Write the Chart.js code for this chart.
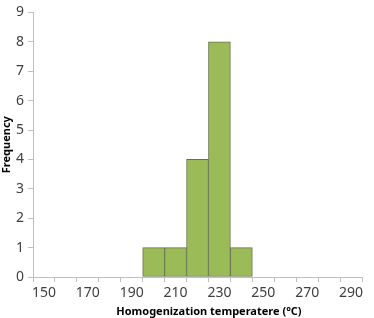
<!DOCTYPE html>
<html>
<head>
<meta charset="utf-8">
<script src="https://cdn.jsdelivr.net/npm/chart.js@4"></script>
<style>
  html, body { margin: 0; padding: 0; background: #fff; }
  #chart { display: block; }
</style>
</head>
<body>
<canvas id="chart" width="374" height="318"></canvas>
<script>
// histogram bins (lower bound, 10 degree wide)
const bins = ['150', '160', '170', '180', '190', '200', '210', '220', '230', '240', '250', '260', '270', '280', '290'];
const frequency = [0, 0, 0, 0, 0, 1, 1, 4, 8, 1, 0, 0, 0, 0, 0];
const yTicks = [0, 1, 2, 3, 4, 5, 6, 7, 8, 9];

const axisGray = '#bfbfbf';
const labelFont = { family: 'Noto Sans', size: 14 };

const ctx = document.getElementById('chart').getContext('2d');
const chart = new Chart(ctx, {
  type: 'bar',
  data: {
    labels: bins,
    datasets: [
      {
        label: 'Frequency',
        data: frequency,
        backgroundColor: '#9bbb59',
        borderColor: '#667548',
        borderWidth: 1,
        borderSkipped: false,
        barPercentage: 1,
        categoryPercentage: 1
      }
    ]
  },
  options: {
    responsive: false,
    animation: false,
    layout: { padding: { top: 6, right: 12, left: 0, bottom: 0 } },
    plugins: {
      legend: { display: false },
      tooltip: { enabled: false }
    },
    scales: {
      x: {
        offset: true,
        grid: {
          offset: true,
          drawOnChartArea: false,
          drawTicks: true,
          tickLength: 5,
          color: axisGray
        },
        border: { color: axisGray },
        ticks: {
          autoSkip: false,
          maxRotation: 0,
          color: '#404040',
          font: labelFont,
          padding: 3,
          callback: (v, i) => (i % 2 === 0 ? bins[i] : '')
        },
        title: {
          display: true,
          // leading spaces nudge the centred title right, as in the original
          text: '        Homogenization temperatere (°C)',
          color: '#000',
          font: { family: 'Noto Sans', size: 11, weight: 'bold' },
          padding: { top: 0, bottom: 0 }
        },
        afterFit: s => { s.height = 41; }
      },
      y: {
        min: 0,
        max: 9,
        afterBuildTicks: s => { s.ticks = yTicks.map(v => ({ value: v })); },
        grid: {
          drawOnChartArea: false,
          drawTicks: true,
          tickLength: 5,
          color: axisGray
        },
        border: { color: axisGray },
        ticks: {
          color: '#404040',
          font: labelFont,
          padding: 4
        },
        title: {
          display: true,
          text: 'Frequency',
          color: '#000',
          font: { family: 'Noto Sans', size: 11, weight: 'bold' },
          padding: { top: 0, bottom: 0 }
        },
        afterFit: s => { s.width = 33; }
      }
    }
  }
});
</script>
</body>
</html>
